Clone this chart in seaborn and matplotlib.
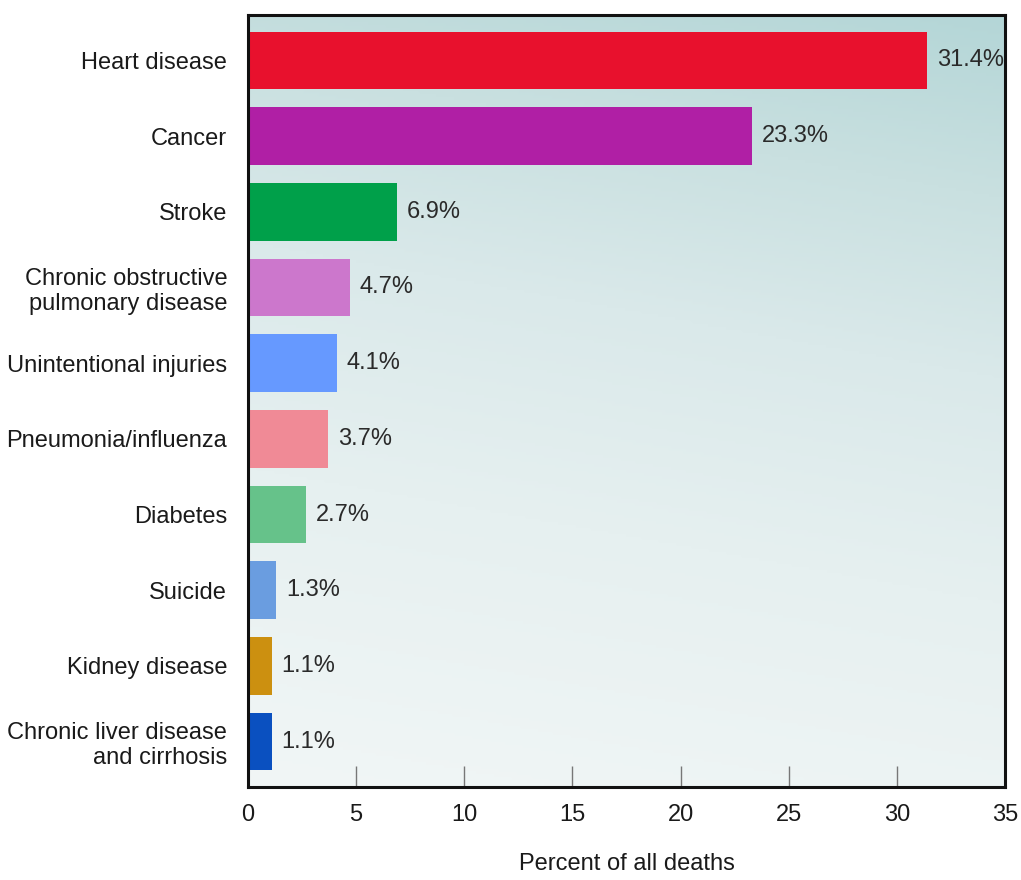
import numpy as np
import pandas as pd
import matplotlib
matplotlib.use("Agg")
import matplotlib.pyplot as plt
import seaborn as sns
from matplotlib.colors import LinearSegmentedColormap

categories = ["Heart disease", "Cancer", "Stroke",
              "Chronic obstructive\npulmonary disease",
              "Unintentional injuries", "Pneumonia/influenza", "Diabetes",
              "Suicide", "Kidney disease",
              "Chronic liver disease\nand cirrhosis"]
values = [31.4, 23.3, 6.9, 4.7, 4.1, 3.7, 2.7, 1.3, 1.1, 1.1]
colors = ["#e8112d", "#b01fa5", "#00a04a", "#cc77cc", "#6699ff",
          "#f08a96", "#66c28a", "#6a9de0", "#cc9010", "#0a50c0"]
xticks = [0, 5, 10, 15, 20, 25, 30, 35]

sns.set_theme(style="white")
plt.rcParams['font.family'] = ['Liberation Sans', 'DejaVu Sans']

df = pd.DataFrame({"cause": categories, "pct": values})

fig = plt.figure(figsize=(10.21, 8.80), dpi=100)
ax = fig.add_axes([248/1021, 1-787/880, (1005-248)/1021, (787-15)/880])

# background gradient (bottom light -> top teal)
n = 256
gx, gy = np.meshgrid(np.linspace(0, 1, n), np.linspace(0, 1, n))
grad = np.clip(gx * 0.15 + gy * 0.85, 0, 1)
cmap = LinearSegmentedColormap.from_list(
    "bg", [(0.0, "#f1f6f6"), (0.35, "#e6f0f0"), (0.6, "#dae9ea"),
           (0.8, "#c9e0e0"), (1.0, "#b4d6d7")])
ax.imshow(grad, cmap=cmap, origin="lower", extent=[0, 1, 0, 1],
          transform=ax.transAxes, aspect="auto", zorder=0)

sns.barplot(data=df, x="pct", y="cause", hue="cause",
            palette=dict(zip(categories, colors)), legend=False,
            orient="h", width=0.76, saturation=1, ax=ax, zorder=2,
            linewidth=0, edgecolor="none")

for cont in ax.containers:
    ax.bar_label(cont, labels=[f"{v:.1f}%" for v in cont.datavalues],
                 padding=7, fontsize=17, color="#2a2a2a")

ax.set_xlim(0, 35)
ax.set_ylim(9.6, -0.6)
ax.set_xticks(xticks)
ax.set_xticklabels([str(t) for t in xticks], fontsize=17, color="#1a1a1a")
ax.tick_params(axis="x", direction="in", length=15, width=1, color="#777777",
               pad=12, bottom=True)
ax.tick_params(axis="y", length=0, pad=15, labelsize=17, labelcolor="#1a1a1a")
for lab in ax.get_yticklabels():
    lab.set_linespacing(1.2)
ax.set_ylabel("")
ax.set_xlabel("Percent of all deaths", fontsize=17, color="#1a1a1a", labelpad=20)
for s in ax.spines.values():
    s.set_visible(True)
    s.set_color("#111111")
    s.set_linewidth(2.2)

fig.savefig("out.png", dpi=100, facecolor="white")
